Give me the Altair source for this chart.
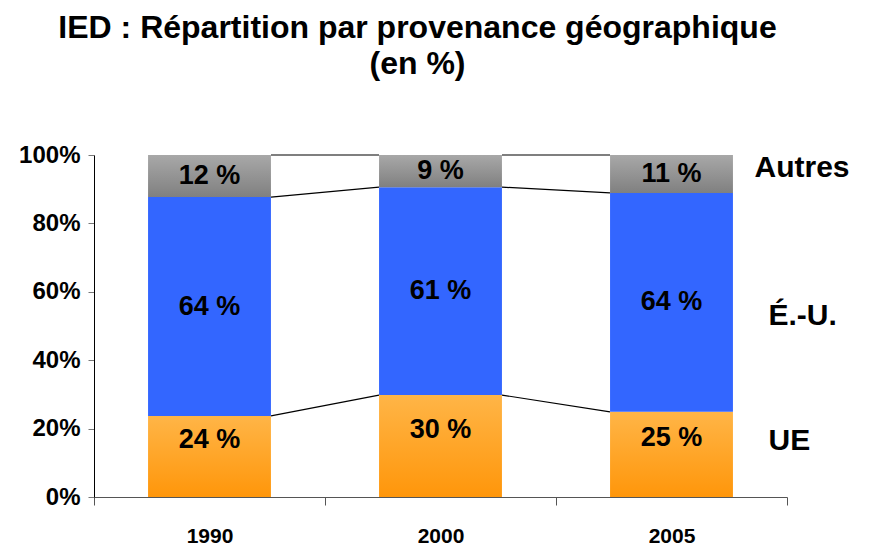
import altair as alt
import pandas as pd

# ---- data ----
years = ["1990", "2000", "2005"]
ue = [23.7, 29.8, 24.9]
eu = [64.0, 60.8, 64.0]
autres = [12.3, 9.4, 11.1]
series = ["UE", "É.-U.", "Autres"]

rows = []
for i, yr in enumerate(years):
    base = 0.0
    for s, vals in zip(series, [ue, eu, autres]):
        v = vals[i]
        rows.append(dict(year=yr, series=s, y0=base, y1=base + v,
                         mid=base + v / 2, label=f"{round(v)} %"))
        base += v
df = pd.DataFrame(rows)

cums = [[ue[i], ue[i] + eu[i], ue[i] + eu[i] + autres[i]] for i in range(len(years))]
seg = []
for i in range(len(years) - 1):
    for k in range(3):
        seg.append(dict(year=years[i], year2=years[i + 1], ya=cums[i][k], yb=cums[i + 1][k]))
seg_df = pd.DataFrame(seg)

FONT = "Liberation Sans"

xscale = alt.Scale(domain=years, paddingInner=0, paddingOuter=0)
yscale = alt.Scale(domain=[0, 100], nice=False)

xaxis = alt.Axis(title=None, labelAngle=0, tickBand="extent", tickSize=8,
                 domainColor="#555555", tickColor="#555555", labelColor="black",
                 labelFont=FONT, labelFontSize=21, labelFontWeight="bold",
                 labelPadding=20, grid=False)
yaxis = alt.Axis(title=None, values=[0, 20, 40, 60, 80, 100],
                 labelExpr="datum.value + '%'", tickSize=6, tickColor="#777777",
                 domainColor="black", labelColor="black", labelFont=FONT,
                 labelFontSize=24, labelFontWeight="bold", labelPadding=8, grid=False)

X = alt.X("year:N", scale=xscale, axis=xaxis)


def grad(top, bottom):
    return alt.Gradient(gradient="linear",
                        stops=[alt.GradientStop(color=top, offset=0),
                               alt.GradientStop(color=bottom, offset=1)],
                        x1=0, x2=0, y1=0, y2=1)


styles = {
    "UE": dict(fill=grad("#FFB547", "#FF960A"), label_dy=-16, leg_off=97, leg_dy=-13),
    "É.-U.": dict(fill="#3366FF", label_dy=0, leg_off=97, leg_dy=14),
    "Autres": dict(fill=grad("#A8A8A8", "#808080"), label_dy=0, leg_off=83, leg_dy=-6),
}

base = alt.Chart(df)
layers = []

# series lines
layers.append(
    alt.Chart(seg_df).mark_rule(color="black", strokeWidth=1.2, xOffset=61.5, x2Offset=-61.5).encode(
        x=X, x2="year2:N",
        y=alt.Y("ya:Q", scale=yscale, axis=yaxis), y2="yb:Q")
)

for s in series:
    st = styles[s]
    sub = base.transform_filter(alt.datum.series == s)
    layers.append(
        sub.mark_bar(fill=st["fill"], width=alt.RelativeBandSize(0.532)).encode(
            x=X, y=alt.Y("y0:Q", scale=yscale, axis=yaxis), y2="y1:Q")
    )
    layers.append(
        sub.mark_text(font=FONT, fontSize=27, fontWeight="bold", color="black",
                      baseline="middle", align="center", dy=st["label_dy"]).encode(
            x=X, y=alt.Y("mid:Q", scale=yscale, axis=yaxis), text="label:N")
    )
    layers.append(
        sub.transform_filter(alt.datum.year == years[-1]).mark_text(
            font=FONT, fontSize=30, fontWeight="bold", color="black",
            baseline="middle", align="left", xOffset=st["leg_off"], dy=st["leg_dy"]).encode(
            x=X, y=alt.Y("mid:Q", scale=yscale, axis=yaxis), text="series:N")
    )

chart = alt.layer(*layers).properties(
    width=693, height=342,
    autosize=alt.AutoSizeParams(type="none"),
    padding={"left": 86, "top": 147, "right": 75, "bottom": 53},
    title=alt.TitleParams(
        text=["IED : Répartition par provenance géographique", "(en %)"],
        font=FONT, fontSize=32, fontWeight="bold", color="black",
        anchor="middle", dx=-23, offset=62, lineHeight=36),
).configure_view(stroke=None)

chart.save("out.html", embed_options={"renderer": "svg", "actions": False})
